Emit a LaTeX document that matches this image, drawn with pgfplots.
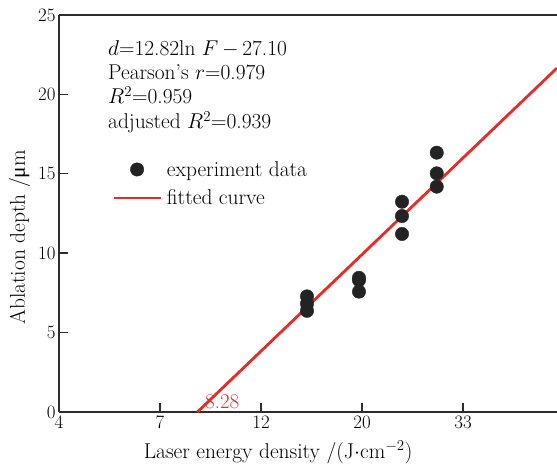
\RequirePackage{fix-cm}
\documentclass[border=0pt]{standalone}
\usepackage{fontspec}
\usepackage{pgfplots}
\pgfplotsset{compat=1.18}
\usetikzlibrary{calc}
\newfontfamily\greekfont{Liberation Serif}
\definecolor{spine}{RGB}{45,45,45}
\definecolor{dot}{RGB}{35,35,35}
\definecolor{fitred}{RGB}{232,42,40}
\newcommand{\tickfont}{\fontsize{19}{22}\selectfont}
\newcommand{\chartfont}{\fontsize{21.5}{25}\selectfont}
\pgfplotsset{
  dotlegend/.style={legend image code/.code={\path[draw=none,fill=none] (0bp,0bp) -- (47bp,0bp);
    \draw[##1] plot coordinates {(23.5bp,0bp)};}},
  linelegend/.style={legend image code/.code={\draw[##1] (0bp,0bp) -- (47bp,0bp);}},
}

\begin{document}
\begin{tikzpicture}
\begin{axis}[
  scale only axis, width=498bp, height=397bp,
  xmin=1.5, xmax=3.9653, ymin=0, ymax=25,
  axis x line=box, axis y line=left, xtick pos=bottom, ytick pos=left,
  x axis line style={-}, y axis line style={-},
  axis line style={line width=1.8bp, draw=spine},
  tick align=inside, major tick length=9bp,
  every tick/.style={line width=1.4bp, draw=spine},
  xtick={1.5,2,2.5,3,3.5}, xticklabels={4,7,12,20,33},
  ytick={0,5,10,15,20,25},
  tick label style={font=\tickfont},
  xlabel={Laser energy density /(J$\cdot$cm$^{-2}$)},
  ylabel={Ablation depth /{\greekfont μ}m},
  xlabel style={at={(rel axis cs:0.44,0)}, anchor=base, yshift=-46bp, font=\chartfont},
  ylabel style={at={(rel axis cs:0,0.44)}, anchor=base, yshift=34bp, font=\chartfont},
  clip=false,
  legend cell align=left,
  legend style={at={(rel axis cs:0.1064,0.632)}, anchor=north west,
    draw=none, fill=none, inner sep=0pt, font=\chartfont,
    nodes={inner sep=0pt}, row sep=12bp,
    /tikz/column 1/.style={column sep=5bp}},
]
\coordinate (SW) at (rel axis cs:0,0);
\addplot[only marks, mark=*, mark size=6.7bp, mark options={fill=dot, draw=dot}, dotlegend]
  coordinates {
  (2.7277,7.28) (2.7277,6.82) (2.7277,6.37)
  (2.985,8.45) (2.985,8.30) (2.985,7.58)
  (3.198,13.24) (3.198,12.34) (3.198,11.21)
  (3.370,16.33) (3.370,15.03) (3.370,14.19)
};
\addlegendentry{experiment data}
\addplot[line width=2.8bp, color=fitred, no marks, linelegend]
  coordinates {(2.185,0) (3.9653,21.66)};
\addlegendentry{fitted curve}
\node[anchor=base west, font=\chartfont, inner sep=0pt] at (rel axis cs:0.0984,0.899) {$d$=12.82ln $F\,{-}\,$27.10};
\node[anchor=base west, font=\chartfont, inner sep=0pt] at (rel axis cs:0.0984,0.8375) {Pearson's $r$=0.979};
\node[anchor=base west, font=\chartfont, inner sep=0pt] at (rel axis cs:0.0984,0.776) {$R^2$=0.959};
\node[anchor=base west, font=\chartfont, inner sep=0pt] at (rel axis cs:0.0984,0.713) {adjusted $R^2$=0.939};
\node[anchor=base west, font=\fontsize{21}{24}\selectfont, inner sep=0pt, text=fitred] at (axis cs:2.223,0.19) {8.28};
\end{axis}
\pgfresetboundingbox
\path[use as bounding box] ($(SW)+(-59bp,-52bp)$) rectangle ($(SW)+(498bp,412bp)$);
\end{tikzpicture}
\end{document}
